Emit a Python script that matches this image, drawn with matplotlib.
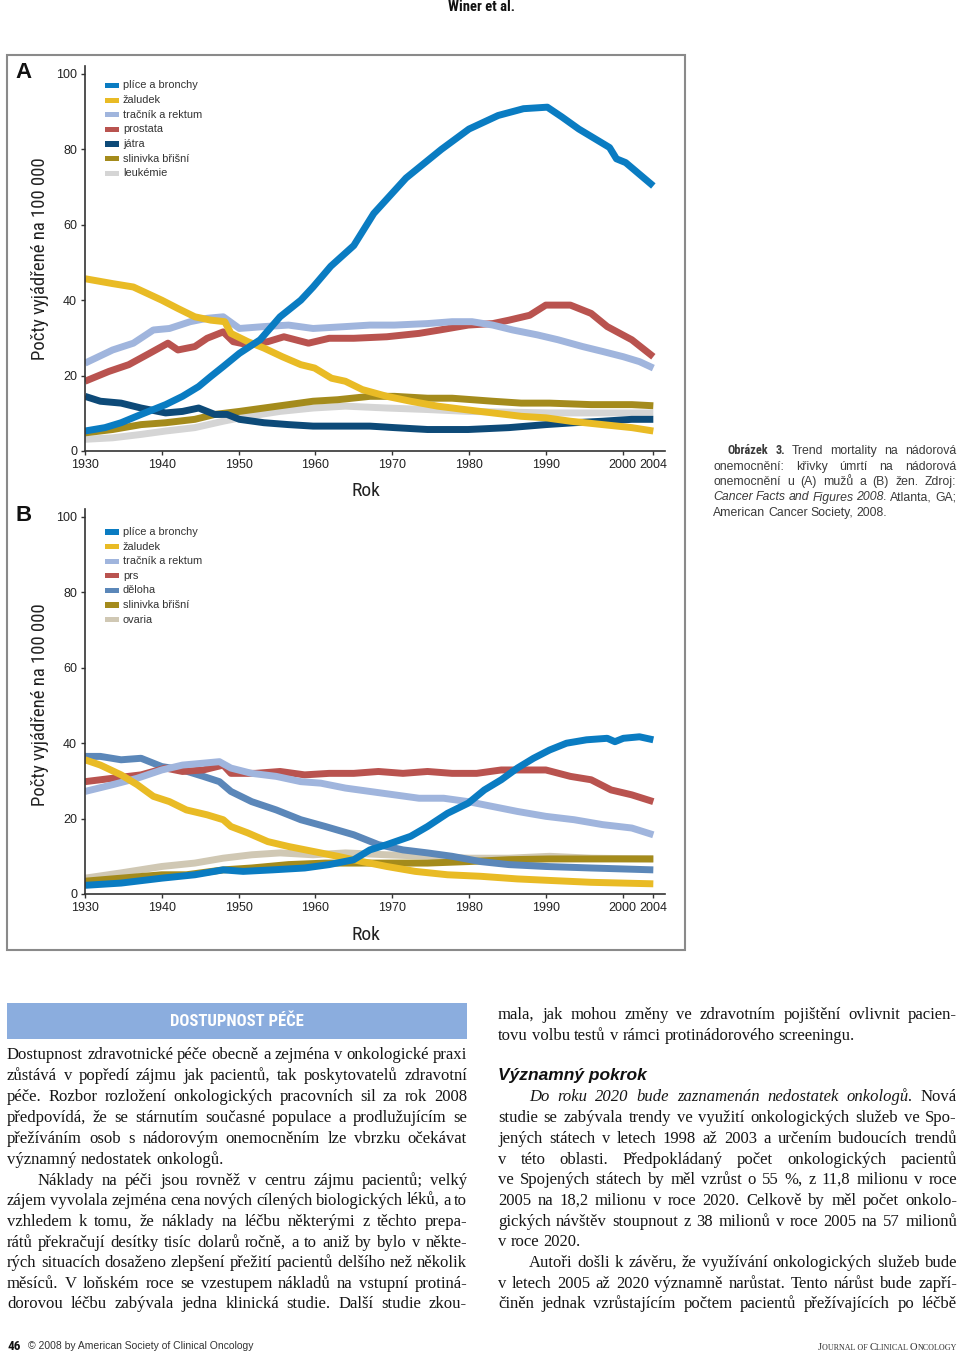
import logging
import matplotlib
matplotlib.use('Agg')
import matplotlib.pyplot as plt
from matplotlib.patches import Rectangle

logging.getLogger('matplotlib.font_manager').setLevel(logging.ERROR)

# ---------------- data ----------------
x_ticks = [1930, 1940, 1950, 1960, 1970, 1980, 1990, 2000, 2004]
y_ticks = [0, 20, 40, 60, 80, 100]

a_labels = ['plíce a bronchy', 'žaludek', 'tračník a rektum', 'prostata', 'játra', 'slinivka břišní', 'leukémie']
b_labels = ['plíce a bronchy', 'žaludek', 'tračník a rektum', 'prs', 'děloha', 'slinivka břišní', 'ovaria']

a_lung_years = [1930, 1932.6, 1934.7, 1937.3, 1940.5, 1942.7, 1944.8, 1946.4, 1948, 1950.1, 1952.8, 1955.4,
                1958.1, 1959.7, 1962, 1965, 1967.6, 1971.8, 1976.4, 1980, 1983.8, 1987.1, 1990.2, 1992.1,
                1994.3, 1998.3, 1999.2, 2000.4, 2004]
a_lung = [5.3, 6.2, 7.5, 9.7, 12.3, 14.5, 17.1, 19.8, 22.4, 25.9, 29.5, 35.6, 40.0, 43.5, 49.0, 54.5, 63.0,
          72.4, 80.0, 85.4, 89.0, 90.8, 91.2, 88.6, 85.4, 80.5, 77.5, 76.5, 70.3]

a_stomach_years = [1930, 1933.6, 1936.3, 1938.1, 1940, 1942.1, 1944.3, 1946.4, 1948.2, 1949, 1951.2, 1953.3,
                   1955.7, 1958.1, 1959.9, 1962.1, 1963.9, 1966.1, 1969.3, 1972.4, 1975.9, 1979.4, 1983.1,
                   1986.8, 1990, 1993.2, 1997.4, 2001.2, 2004]
a_stomach = [45.7, 44.4, 43.5, 41.8, 40.0, 37.8, 35.6, 34.7, 34.3, 31.2, 29.0, 27.3, 25.0, 22.9, 22.0, 19.3,
             18.5, 16.3, 14.5, 13.2, 11.9, 11.0, 10.1, 9.2, 8.8, 7.9, 7.0, 6.2, 5.3]

a_colorectal_years = [1930, 1933.6, 1936.3, 1938.9, 1941, 1943.7, 1945.9, 1948, 1950.1, 1953.3, 1956.5, 1959.7,
                      1963.9, 1967.1, 1970.3, 1974.6, 1977.8, 1980.4, 1983.1, 1985.7, 1988.9, 1991.6, 1994.8,
                      1997.4, 2000.1, 2002.2, 2004]
a_colorectal = [23.3, 26.8, 28.6, 32.1, 32.5, 34.3, 35.2, 35.6, 32.5, 33.0, 33.4, 32.5, 33.0, 33.4, 33.4, 33.8,
                34.3, 34.3, 33.4, 32.1, 30.8, 29.5, 27.7, 26.4, 25.0, 23.7, 22.0]

a_prostate_years = [1930, 1933.1, 1935.7, 1938.4, 1940.8, 1942.1, 1944.3, 1945.9, 1948, 1949.3, 1951.2, 1953.8,
                    1955.9, 1959.1, 1961.8, 1965, 1969.3, 1973.5, 1976.2, 1979.9, 1983.1, 1985.2, 1987.9, 1990,
                    1993.2, 1995.9, 1998, 2001.2, 2004]
a_prostate = [18.5, 21.1, 22.9, 25.9, 28.6, 26.8, 27.7, 29.9, 31.6, 29.0, 28.2, 29.0, 30.3, 28.6, 29.9, 29.9,
              30.3, 31.2, 32.1, 33.4, 33.8, 34.7, 36.0, 38.7, 38.7, 36.5, 33.0, 29.5, 25.0]

a_liver_years = [1930, 1932, 1934.7, 1937.3, 1940.5, 1942.7, 1944.8, 1946.9, 1948.5, 1950.1, 1953.3, 1956.5,
                 1959.7, 1962.9, 1967.1, 1970.3, 1974.6, 1979.9, 1985.2, 1990, 1993.7, 1997.4, 2001.2, 2004]
a_liver = [14.5, 13.2, 12.7, 11.4, 10.1, 10.5, 11.4, 9.7, 9.7, 8.4, 7.5, 7.0, 6.6, 6.6, 6.6, 6.2, 5.7, 5.7, 6.2,
           7.0, 7.5, 7.9, 8.4, 8.4]

a_pancreas_years = [1930, 1933.6, 1937.3, 1940.5, 1944.3, 1946.9, 1950.1, 1953.3, 1956.5, 1959.7, 1962.9,
                    1967.1, 1970.3, 1974.6, 1977.8, 1983.1, 1986.8, 1990.5, 1995.9, 2001.2, 2004]
a_pancreas = [4.8, 5.7, 7.0, 7.5, 8.4, 9.7, 10.5, 11.4, 12.3, 13.2, 13.6, 14.5, 14.5, 14.0, 14.0, 13.2, 12.7,
              12.7, 12.3, 12.3, 12.0]

a_leukemia_years = [1930, 1933.6, 1937.3, 1940.5, 1944.3, 1948, 1951.2, 1955.4, 1959.7, 1963.9, 1969.3, 1974.6,
                    1979.9, 1985.2, 1990.5, 1995.9, 2004]
a_leukemia = [3.1, 3.5, 4.4, 5.3, 6.2, 7.9, 9.2, 10.5, 11.4, 11.9, 11.4, 11.0, 10.5, 10.3, 10.1, 10.1, 10.1]

b_lung_years = [1930, 1934.7, 1940, 1944.3, 1948, 1950.6, 1954.4, 1958.6, 1961.8, 1965, 1967.1, 1969.3, 1972.4,
                1974.6, 1977.2, 1979.9, 1982, 1984.2, 1986.3, 1988.4, 1990.5, 1992.7, 1995.3, 1998, 1999,
                2000.1, 2002.2, 2004]
b_lung = [2.3, 2.9, 4.2, 5.1, 6.4, 6.0, 6.4, 6.9, 7.8, 9.1, 11.7, 13.1, 15.3, 17.9, 21.4, 24.1, 27.6, 30.3,
          33.4, 36.0, 38.2, 40.0, 40.9, 41.3, 40.4, 41.3, 41.7, 40.9]

b_stomach_years = [1930, 1932, 1934.7, 1936.8, 1938.9, 1941, 1943.2, 1945.9, 1948, 1949, 1951.2, 1953.8, 1956.5,
                   1959.7, 1962.9, 1966.1, 1969.3, 1973, 1977.2, 1981.5, 1986.3, 1990.5, 1995.9, 2004]
b_stomach = [35.6, 34.2, 31.6, 29.0, 25.9, 24.5, 22.3, 21.0, 19.7, 17.9, 16.2, 13.9, 12.6, 11.3, 10.0, 8.6, 7.3,
             6.0, 5.1, 4.7, 4.0, 3.6, 3.1, 2.7]

b_colorectal_years = [1930, 1933.6, 1936.8, 1940, 1942.7, 1945.4, 1947.5, 1949, 1951.7, 1954.9, 1958.1, 1960.7,
                      1963.9, 1967.1, 1970.3, 1973.5, 1976.7, 1979.9, 1983.1, 1986.3, 1990, 1993.7, 1997.4,
                      2001.2, 2004]
b_colorectal = [27.2, 29.0, 30.7, 32.9, 34.2, 34.7, 35.1, 33.4, 32.0, 31.2, 29.8, 29.4, 28.1, 27.2, 26.3, 25.4,
                25.4, 24.5, 23.2, 21.9, 20.6, 19.7, 18.4, 17.5, 15.7]

b_breast_years = [1930, 1933.6, 1937.3, 1940.5, 1942.7, 1945.4, 1948, 1949, 1952.2, 1955.4, 1958.6, 1961.8,
                  1965, 1968.2, 1971.4, 1974.6, 1977.8, 1981, 1984.2, 1986.8, 1990, 1993.2, 1995.9, 1998.5,
                  2001.2, 2004]
b_breast = [29.8, 30.7, 31.6, 33.4, 32.5, 32.9, 34.2, 32.0, 32.0, 32.5, 31.6, 32.0, 32.0, 32.5, 32.0, 32.5,
            32.0, 32.0, 32.9, 32.9, 32.9, 31.2, 30.3, 27.6, 26.3, 24.5]

b_uterus_years = [1930, 1932, 1934.7, 1937.3, 1940, 1942.7, 1945.4, 1947.5, 1949, 1951.7, 1954.9, 1958.1,
                  1961.3, 1965, 1968.2, 1971.4, 1974.6, 1977.8, 1981.5, 1985.2, 1990, 1995.9, 2004]
b_uterus = [36.5, 36.5, 35.6, 36.0, 33.8, 32.9, 31.2, 29.8, 27.2, 24.5, 22.3, 19.7, 17.9, 15.7, 13.1, 11.7,
            10.9, 10.0, 8.6, 7.8, 7.3, 6.9, 6.4]

b_pancreas_years = [1930, 1934.7, 1940, 1943.2, 1948, 1951.7, 1956.5, 1961.3, 1966.6, 1970.3, 1974.6, 1979.9,
                    1985.2, 1990.5, 1995.9, 2004]
b_pancreas = [3.4, 4.2, 5.1, 5.1, 6.4, 6.9, 7.8, 8.2, 8.2, 8.2, 8.2, 8.6, 9.1, 9.3, 9.3, 9.3]

b_ovary_years = [1930, 1934.7, 1940, 1944.3, 1948, 1951.7, 1955.4, 1959.7, 1963.9, 1969.3, 1974.6, 1979.9,
                 1985.2, 1990.5, 1995.9, 2004]
b_ovary = [4.2, 5.6, 7.3, 8.2, 9.5, 10.4, 10.9, 10.4, 10.9, 10.4, 10.0, 9.5, 9.5, 10.0, 9.5, 9.3]

# ---------------- style ----------------
a_colors = ['#0a7cc2', '#e9bb25', '#a0b5dd', '#b9534f', '#0d4a78', '#a48b1c', '#d5d5d5']
b_colors = ['#0a7cc2', '#e9bb25', '#a0b5dd', '#b9534f', '#5b87b9', '#a48b1c', '#d0c8b4']

NARROW = ['Roboto Condensed', 'Open Sans Condensed', 'Liberation Sans Narrow', 'Liberation Sans', 'DejaVu Sans']
SANS = ['Liberation Sans', 'DejaVu Sans']
SERIF = ['Liberation Serif', 'DejaVu Serif']

W, H = 960, 1355
fig = plt.figure(figsize=(W / 100, H / 100), dpi=100)
renderer = fig.canvas.get_renderer()


def fx(x):
    return x / W


def fy(y):
    return 1 - y / H


def text_width(s, **kw):
    t = fig.text(0, 0, s, **kw)
    w = t.get_window_extent(renderer=renderer).width
    t.remove()
    return w


PX_PER_UNIT = 3.77
PX_PER_YEAR = 7.68


def make_axes(zero_px):
    h_px = 102 * PX_PER_UNIT
    ax = fig.add_axes([fx(85), 1 - zero_px / H, (665 - 85) / W, h_px / H])
    ax.set_xlim(1930, 1930 + 580 / PX_PER_YEAR)
    ax.set_ylim(0, 102)
    ax.patch.set_alpha(0)
    for s in ['top', 'right']:
        ax.spines[s].set_visible(False)
    for s in ['left', 'bottom']:
        ax.spines[s].set_color('#333333')
        ax.spines[s].set_linewidth(1.2)
    ax.set_xticks(x_ticks)
    ax.set_xticklabels([str(v) for v in x_ticks])
    ax.set_yticks(y_ticks)
    ax.set_yticklabels([str(v) for v in y_ticks])
    ax.tick_params(direction='out', length=3.2, width=1, color='#333333', labelsize=9,
                   labelcolor='#222222', pad=2.5)
    for lab in ax.get_xticklabels() + ax.get_yticklabels():
        lab.set_fontfamily(SANS)
    return ax


def draw_series(ax, series, colors):
    for (xs, ys), c in reversed(list(zip(series, colors))):
        ax.plot(xs, ys, color=c, lw=5.0, solid_joinstyle='round', solid_capstyle='butt')


def draw_legend(labels, colors, y_first, step):
    for i, (lab, c) in enumerate(zip(labels, colors)):
        y = y_first + i * step
        fig.patches.append(Rectangle((fx(105), fy(y + 2.6)), 14 / W, 5.2 / H, transform=fig.transFigure,
                                     facecolor=c, edgecolor='none'))
        fig.text(fx(123), fy(y), lab, ha='left', va='center', fontsize=7.9, fontfamily=SANS, color='#333333')


# ---------------- frame + charts ----------------
fig.patches.append(Rectangle((fx(7), fy(950)), 678 / W, 895 / H, transform=fig.transFigure,
                             fill=False, edgecolor='#8a8a8a', lw=1.5))

axA = make_axes(451)
draw_series(axA, [(a_lung_years, a_lung), (a_stomach_years, a_stomach), (a_colorectal_years, a_colorectal),
                  (a_prostate_years, a_prostate), (a_liver_years, a_liver), (a_pancreas_years, a_pancreas),
                  (a_leukemia_years, a_leukemia)], a_colors)
axB = make_axes(894)
draw_series(axB, [(b_lung_years, b_lung), (b_stomach_years, b_stomach), (b_colorectal_years, b_colorectal),
                  (b_breast_years, b_breast), (b_uterus_years, b_uterus), (b_pancreas_years, b_pancreas),
                  (b_ovary_years, b_ovary)], b_colors)

draw_legend(a_labels, a_colors, 85.5, 14.6)
draw_legend(b_labels, b_colors, 532, 14.6)

for yc in (259, 705):
    fig.text(fx(40), fy(yc), 'Počty vyjádřené na 100 000', rotation=90, ha='center', va='center',
             fontsize=13.5, fontfamily=NARROW, color='#222222')
for yc in (491, 935):
    fig.text(fx(366), fy(yc), 'Rok', ha='center', va='center', fontsize=14, fontfamily=NARROW, color='#222222')

fig.text(fx(24), fy(73), 'A', ha='center', va='center', fontsize=16, fontweight='bold', fontfamily=SANS,
         color='#111111')
fig.text(fx(24), fy(516), 'B', ha='center', va='center', fontsize=16, fontweight='bold', fontfamily=SANS,
         color='#111111')

fig.text(fx(482), fy(7), 'Winer et al.', ha='center', va='center', fontsize=10.5, fontweight='bold',
         fontfamily=NARROW, color='#111111')


# ---------------- justified text helpers ----------------
def parse(line):
    out = []
    ital = bold = False
    for w in line.split():
        if w.startswith('*'):
            ital = True
            w = w[1:]
        if w.startswith('#'):
            bold = True
            w = w[1:]
        end_i = w.endswith('*')
        if end_i:
            w = w[:-1]
        end_b = w.endswith('#')
        if end_b:
            w = w[:-1]
        out.append((w, ital, bold))
        if end_i:
            ital = False
        if end_b:
            bold = False
    return out


def line_kws(toks, fam, size, color, bold_fam=None):
    kws = []
    for w, it, bd in toks:
        kws.append(dict(fontfamily=(bold_fam or fam) if bd else fam, fontsize=size,
                        fontstyle='italic' if it else 'normal',
                        fontweight='bold' if bd else 'normal', color=color))
    return kws


def natural_width(line, fam, size):
    toks = parse(line)
    kws = line_kws(toks, fam, size, 'k')
    return sum(text_width(w, **k) for (w, _, _), k in zip(toks, kws)), len(toks)


def draw_line(line, x0, x1, yb, fam, size, color, justify=True, indent=0, bold_fam=None):
    toks = parse(line)
    kws = line_kws(toks, fam, size, color, bold_fam)
    widths = [text_width(w, **k) for (w, _, _), k in zip(toks, kws)]
    start = x0 + indent
    if justify and len(toks) > 1:
        gap = (x1 - start - sum(widths)) / (len(toks) - 1)
    else:
        gap = size * 100 / 72 * 0.25
    x = start
    for (w, _, _), k, wd in zip(toks, kws, widths):
        fig.text(fx(x), fy(yb), w, ha='left', va='baseline', **k)
        x += wd + gap


# ---------------- caption ----------------
cap_lines = [
    ('#Obrázek 3.# Trend mortality na nádorová', True, 15),
    ('onemocnění: křivky úmrtí na nádorová', True, 0),
    ('onemocnění u (A) mužů a (B) žen. Zdroj:', True, 0),
    ('*Cancer Facts and Figures 2008.* Atlanta, GA;', True, 0),
    ('American Cancer Society, 2008.', False, 0),
]
for i, (ln, just, ind) in enumerate(cap_lines):
    draw_line(ln, 713, 956, 454 + i * 15.5, SANS, 8.8, '#3a3a3a', justify=just, indent=ind,
              bold_fam=NARROW)

# ---------------- body text ----------------
left_lines = [
    ('Dostupnost zdravotnické péče obecně a zejména v onkologické praxi', True, 0),
    ('zůstává v popředí zájmu jak pacientů, tak poskytovatelů zdravotní', True, 0),
    ('péče. Rozbor rozložení onkologických pracovních sil za rok 2008', True, 0),
    ('předpovídá, že se stárnutím současné populace a prodlužujícím se', True, 0),
    ('přežíváním osob s nádorovým onemocněním lze vbrzku očekávat', True, 0),
    ('významný nedostatek onkologů.', False, 0),
    ('Náklady na péči jsou rovněž v centru zájmu pacientů; velký', True, 31),
    ('zájem vyvolala zejména cena nových cílených biologických léků, a to', True, 0),
    ('vzhledem k tomu, že náklady na léčbu některými z těchto prepa-', True, 0),
    ('rátů překračují desítky tisíc dolarů ročně, a to aniž by bylo v někte-', True, 0),
    ('rých situacích dosaženo zlepšení přežití pacientů delšího než několik', True, 0),
    ('měsíců. V loňském roce se vzestupem nákladů na vstupní protiná-', True, 0),
    ('dorovou léčbu zabývala jedna klinická studie. Další studie zkou-', True, 0),
]
left_y = [1054, 1075, 1096, 1117, 1138, 1159, 1180, 1200, 1221, 1242, 1262, 1283, 1303]

right_lines = [
    ('mala, jak mohou změny ve zdravotním pojištění ovlivnit pacien-', True, 0),
    ('tovu volbu testů v rámci protinádorového screeningu.', False, 0),
    ('*Do roku 2020 bude zaznamenán nedostatek onkologů.* Nová', True, 31),
    ('studie se zabývala trendy ve využití onkologických služeb ve Spo-', True, 0),
    ('jených státech v letech 1998 až 2003 a určením budoucích trendů', True, 0),
    ('v této oblasti. Předpokládaný počet onkologických pacientů', True, 0),
    ('ve Spojených státech by měl vzrůst o 55 %, z 11,8 milionu v roce', True, 0),
    ('2005 na 18,2 milionu v roce 2020. Celkově by měl počet onkolo-', True, 0),
    ('gických návštěv stoupnout z 38 milionů v roce 2005 na 57 milionů', True, 0),
    ('v roce 2020.', False, 0),
    ('Autoři došli k závěru, že využívání onkologických služeb bude', True, 31),
    ('v letech 2005 až 2020 významně narůstat. Tento nárůst bude zapří-', True, 0),
    ('činěn jednak vzrůstajícím počtem pacientů přežívajících po léčbě', True, 0),
]
right_y = [1014, 1035, 1096, 1117, 1138, 1159, 1179, 1200, 1221, 1241, 1262, 1283, 1303]

# choose body font size so that every justified line fits its column
ref_size = 10.0
limits = []
for ln, just, ind in left_lines + right_lines:
    if just:
        nw, n = natural_width(ln, SERIF, ref_size)
        avail = 460 - ind
        # keep at least 0.15 em between words
        limits.append(avail / (nw / ref_size + (n - 1) * 0.15 * 100 / 72))
body_size = min(12.0, min(limits))

for (ln, just, ind), y in zip(left_lines, left_y):
    draw_line(ln, 7, 467, y + 5, SERIF, body_size, '#161616', justify=just, indent=ind)
for (ln, just, ind), y in zip(right_lines, right_y):
    draw_line(ln, 498, 957, y + 5, SERIF, body_size, '#161616', justify=just, indent=ind)

# box heading
fig.patches.append(Rectangle((fx(7), fy(1039)), 460 / W, 36 / H, transform=fig.transFigure,
                             facecolor='#8badde', edgecolor='none'))
fig.text(fx(237), fy(1021), 'DOSTUPNOST PÉČE', ha='center', va='center', fontsize=12, fontweight='bold',
         fontfamily=NARROW, color='white')

# section heading
fig.text(fx(498), fy(1075 + 5), 'Významný pokrok', ha='left', va='baseline', fontsize=12.5,
         fontweight='bold', fontstyle='italic', fontfamily=SANS, color='#111111')

# ---------------- footer ----------------
fig.text(fx(7), fy(1346), '46', ha='left', va='center', fontsize=9.5, fontweight='bold', fontfamily=NARROW,
         color='#111111')
fig.text(fx(28), fy(1346), '© 2008 by American Society of Clinical Oncology', ha='left', va='center',
         fontsize=7.5, fontfamily=SANS, color='#333333')


def small_caps(text, x_right, yb, big, small, fam, color):
    pieces = []
    for ch in text:
        is_big = ch.isupper()
        if pieces and pieces[-1][1] == is_big:
            pieces[-1][0] += ch.upper()
        else:
            pieces.append([ch.upper(), is_big])
    widths = [text_width(p.replace(' ', '\u00a0'), fontsize=big if b else small, fontfamily=fam)
              for p, b in pieces]
    x = x_right - sum(widths)
    for (p, b), w in zip(pieces, widths):
        fig.text(fx(x), fy(yb), p.replace(' ', '\u00a0'), ha='left', va='baseline',
                 fontsize=big if b else small, fontfamily=fam, color=color)
        x += w


small_caps('Journal of Clinical Oncology', 957, 1349.5, 7.6, 5.8, SERIF, '#333333')

fig.savefig('out.png', dpi=100)
